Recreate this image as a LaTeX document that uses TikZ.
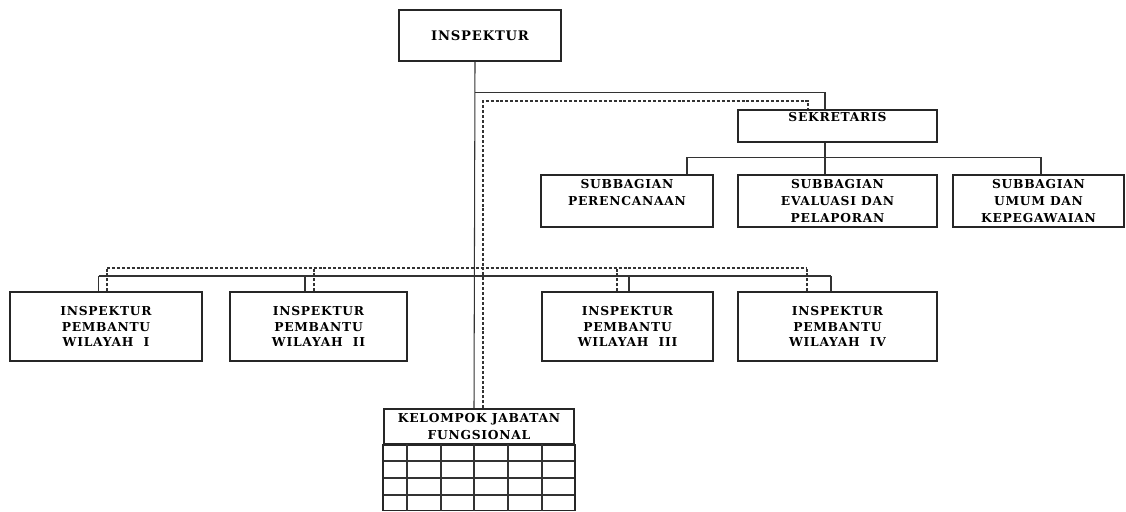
\documentclass[tikz,border=0pt]{standalone}
\usepackage{fontspec}
\setmainfont{DejaVu Serif}[LetterSpace=6]
\usepackage{tikz}

\begin{document}
\begin{tikzpicture}[x=0.02cm, y=-0.02cm,
    box/.style={draw=black!85, line width=0.9pt, align=center, inner sep=1pt,
      font=\bfseries\fontsize{7}{9.8}\selectfont},
    wbox/.style={box, minimum width=3.98cm, minimum height=1.38cm,
      font=\bfseries\fontsize{7}{8.8}\selectfont},
    sbox/.style={box, minimum height=1.04cm},
    link/.style={draw=black!80, line width=0.6pt},
    dlink/.style={draw=black!80, line width=0.6pt, dash pattern=on 1.7pt off 1.1pt}]
  \useasboundingbox (0,0) rectangle (1126,511);

  \node[box, minimum width=3.24cm, minimum height=1.02cm, font=\bfseries\fontsize{7.5}{9}\selectfont]
                                              (insp) at ( 480,  35.5) {INSPEKTUR};
  \node[box, minimum width=3.98cm, minimum height=0.64cm]
                                              (sekr) at ( 837.5, 126) {SEKRETARIS\\~};

  \node[sbox, minimum width=3.44cm]           (sb1)  at ( 627,   201) {SUBBAGIAN\\PERENCANAAN\\~};
  \node[sbox, minimum width=3.98cm]           (sb2)  at ( 837.5, 201) {SUBBAGIAN\\EVALUASI DAN\\PELAPORAN};
  \node[sbox, minimum width=3.42cm]           (sb3)  at (1038.5, 201) {SUBBAGIAN\\UMUM DAN\\KEPEGAWAIAN};

  \node[wbox, minimum width=3.84cm]           (ipw1) at ( 106,   326.5) {INSPEKTUR\\PEMBANTU\\WILAYAH\ \ I};
  \node[wbox, minimum width=3.54cm]           (ipw2) at ( 318.5, 326.5) {INSPEKTUR\\PEMBANTU\\WILAYAH\ \ II};
  \node[wbox, minimum width=3.42cm]           (ipw3) at ( 627.5, 326.5) {INSPEKTUR\\PEMBANTU\\WILAYAH\ \ III};
  \node[wbox, minimum width=3.98cm]           (ipw4) at ( 837.5, 326.5) {INSPEKTUR\\PEMBANTU\\WILAYAH\ \ IV};

  \node[box, minimum width=3.8cm, minimum height=0.7cm]
                                              (kjf)  at ( 479,   426.5) {KELOMPOK JABATAN\\FUNGSIONAL};

  \coordinate (topbus)  at (0,  92.5);
  \coordinate (dtopbus) at (0, 101);
  \coordinate (subbus)  at (0, 157.5);
  \coordinate (midbus)  at (0, 276);
  \coordinate (dmidbus) at (0, 268);

  % table under the functional group
  \draw[box] (kjf.south west) rectangle (kjf.south east |- 0,510.5);
  \foreach \cx in {407,441,474,508,542}
    \draw[link, line width=0.9pt] (\cx,444) -- (\cx,510.5);
  \foreach \ry in {461,478,495}
    \draw[link, line width=0.9pt] (384,\ry) -- (574,\ry);

  \draw[link]  ([xshift=-0.1cm]insp.south) -- ([xshift=-0.1cm]kjf.north);
  \draw[link]  ([xshift=-0.1cm]insp.south |- topbus) -| ([xshift=-0.25cm]sekr.north);
  \draw[dlink] ([xshift=0.08cm]kjf.north) -- ([xshift=0.08cm]kjf.north |- dtopbus) -| ([xshift=-0.59cm]sekr.north);

  \draw[link]  ([xshift=-0.25cm]sekr.south) -- ([xshift=-0.25cm]sb2.north);
  \draw[link]  ([xshift=1.2cm]sb1.north) -- ([xshift=1.2cm]sb1.north |- subbus)
                 -- ([xshift=0.05cm]sb3.north |- subbus) -- ([xshift=0.05cm]sb3.north);

  \draw[link]  ([xshift=-0.15cm]ipw1.north |- midbus) -- ([xshift=-0.13cm]ipw4.north |- midbus);
  \foreach \n/\s in {ipw1/-0.15, ipw2/-0.27, ipw3/0.03, ipw4/-0.13}
    \draw[link] ([xshift=\s cm]\n.north) -- ([xshift=\s cm]\n.north |- midbus);
  \draw[dlink] ([xshift=0.02cm]ipw1.north |- dmidbus) -- ([xshift=-0.61cm]ipw4.north |- dmidbus);
  \foreach \n/\s in {ipw1/0.02, ipw2/-0.09, ipw3/-0.21, ipw4/-0.61}
    \draw[dlink] ([xshift=\s cm]\n.north) -- ([xshift=\s cm]\n.north |- dmidbus);
\end{tikzpicture}
\end{document}
